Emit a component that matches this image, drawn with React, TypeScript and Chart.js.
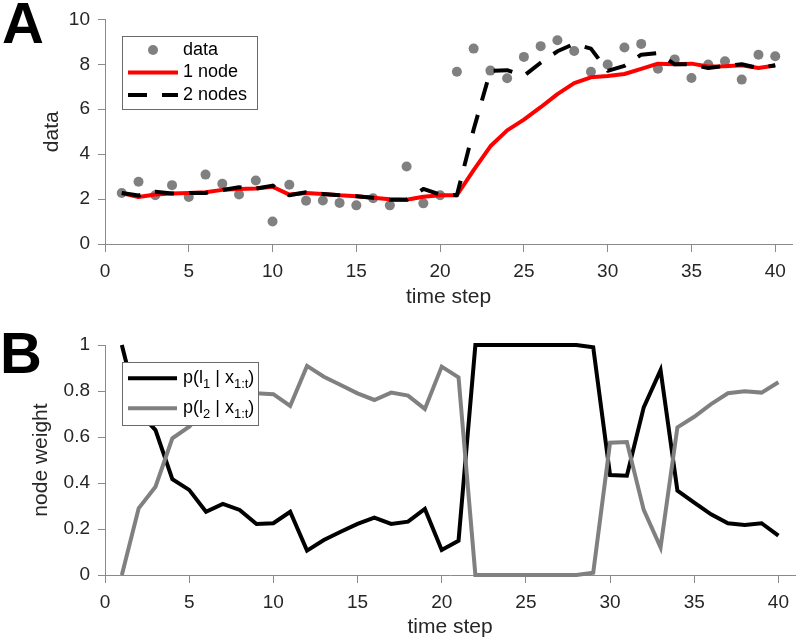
import React, { useEffect, useRef } from 'react';
import { Chart, registerables } from 'chart.js';

Chart.register(...registerables);

// ---------- data ----------
const timeSteps = [1, 2, 3, 4, 5, 6, 7, 8, 9, 10, 11, 12, 13, 14, 15, 16, 17, 18, 19, 20,
  21, 22, 23, 24, 25, 26, 27, 28, 29, 30, 31, 32, 33, 34, 35, 36, 37, 38, 39, 40];

const observed = [2.27, 2.77, 2.17, 2.62, 2.09, 3.09, 2.68, 2.2, 2.83, 1.0,
  2.64, 1.93, 1.94, 1.83, 1.72, 2.04, 1.72, 3.45, 1.81, 2.17,
  7.67, 8.7, 7.72, 7.38, 8.33, 8.81, 9.07, 8.59, 7.67, 7.99,
  8.75, 8.91, 7.8, 8.22, 7.39, 7.99, 8.14, 7.32, 8.43, 8.36];

const oneNode = [2.27, 2.09, 2.2, 2.25, 2.27, 2.3, 2.41, 2.45, 2.47, 2.55,
  2.2, 2.27, 2.23, 2.17, 2.13, 2.06, 1.99, 1.97, 2.1, 2.17,
  2.17, 3.29, 4.35, 5.06, 5.54, 6.09, 6.67, 7.16, 7.42, 7.48,
  7.57, 7.8, 8.03, 8.0, 8.03, 7.9, 7.91, 7.96, 7.84, 7.95];

const twoNodes = [2.27, 2.16, 2.33, 2.25, 2.27, 2.27, 2.4, 2.53, 2.47, 2.6,
  2.17, 2.3, 2.23, 2.17, 2.13, 2.06, 1.97, 1.97, 2.45, 2.2,
  2.17, 5.1, 7.71, 7.74, 7.49, 8.07, 8.58, 8.91, 8.7, 7.71,
  7.93, 8.43, 8.5, 8.0, 8.0, 7.83, 7.93, 8.0, 7.83, 7.96];

const pL1 = [1.0, 0.71, 0.63, 0.417, 0.37, 0.275, 0.309, 0.283, 0.222, 0.225,
  0.275, 0.106, 0.152, 0.188, 0.222, 0.249, 0.222, 0.232, 0.287, 0.109,
  0.149, 1.0, 1.0, 1.0, 1.0, 1.0, 1.0, 1.0, 0.99, 0.435,
  0.432, 0.729, 0.891, 0.367, 0.315, 0.264, 0.225, 0.217, 0.225, 0.171];

const pL2 = [0, 0.29, 0.384, 0.594, 0.645, 0.725, 0.69, 0.717, 0.79, 0.786,
  0.735, 0.909, 0.862, 0.826, 0.79, 0.761, 0.793, 0.78, 0.722, 0.906,
  0.859, 0, 0, 0, 0, 0, 0, 0, 0.01, 0.575,
  0.578, 0.283, 0.12, 0.642, 0.688, 0.743, 0.79, 0.799, 0.793, 0.838];

const xTickValues = [0, 5, 10, 15, 20, 25, 30, 35, 40];
const yTickValuesA = [0, 2, 4, 6, 8, 10];
const yTickValuesB = [0, 0.2, 0.4, 0.6, 0.8, 1];
const yTickLabelsB = ['0', '0.2', '0.4', '0.6', '0.8', '1'];

const legendLabelsA = ['data', '1 node', '2 nodes'];
const legendPartsB = [
  [{ t: 'p(l' }, { t: '1', sub: true }, { t: ' | x' }, { t: '1:t', sub: true }, { t: ')' }],
  [{ t: 'p(l' }, { t: '2', sub: true }, { t: ' | x' }, { t: '1:t', sub: true }, { t: ')' }],
];

// ---------- styling ----------
const FONT = "'Liberation Sans', Arial, Helvetica, sans-serif";
const AXIS_COLOR = '#8a8a8a';
const TEXT_COLOR = '#262626';

const toPts = (ys: number[]) => ys.map((y, i) => ({ x: timeSteps[i], y }));

const boxLegend = {
  id: 'boxLegend',
  afterDatasetsDraw(chart: any, _args: any, opts: any) {
    if (!opts || !opts.items) return;
    const { ctx, chartArea } = chart;
    const x0 = Math.round(chartArea.left + opts.offsetX);
    const y0 = Math.round(chartArea.top + opts.offsetY);
    ctx.save();
    ctx.fillStyle = '#ffffff';
    ctx.fillRect(x0, y0, opts.width, opts.height);
    ctx.strokeStyle = opts.borderColor;
    ctx.lineWidth = 1;
    ctx.strokeRect(x0 + 0.5, y0 + 0.5, opts.width, opts.height);
    opts.items.forEach((item: any, i: number) => {
      const ds = chart.data.datasets[item.datasetIndex];
      const cy = y0 + opts.rowTop + i * opts.rowGap;
      const sx0 = x0 + opts.sampleStart;
      const sx1 = x0 + opts.sampleEnd;
      if (ds.showLine === false) {
        ctx.fillStyle = ds.pointBackgroundColor;
        ctx.beginPath();
        ctx.arc((sx0 + sx1) / 2, cy, ds.pointRadius, 0, Math.PI * 2);
        ctx.fill();
      } else {
        ctx.setLineDash(ds.borderDash || []);
        ctx.strokeStyle = ds.borderColor;
        ctx.lineWidth = ds.borderWidth;
        ctx.lineCap = 'butt';
        ctx.beginPath();
        ctx.moveTo(sx0, cy);
        ctx.lineTo(sx1, cy);
        ctx.stroke();
        ctx.setLineDash([]);
      }
      let tx = x0 + opts.textStart;
      ctx.fillStyle = '#000000';
      ctx.textAlign = 'left';
      ctx.textBaseline = 'middle';
      for (const part of item.parts) {
        const size = part.sub ? opts.subSize : opts.fontSize;
        ctx.font = `${size}px ${FONT}`;
        ctx.fillText(part.t, tx, part.sub ? cy + opts.subShift : cy);
        tx += ctx.measureText(part.t).width;
      }
    });
    ctx.restore();
  },
};

const panelLetter = {
  id: 'panelLetter',
  afterDraw(chart: any, _args: any, opts: any) {
    if (!opts || !opts.text) return;
    const { ctx } = chart;
    ctx.save();
    ctx.fillStyle = '#000000';
    ctx.font = `bold ${opts.size}px ${FONT}`;
    ctx.textAlign = 'left';
    ctx.textBaseline = 'alphabetic';
    ctx.fillText(opts.text, opts.x, opts.y);
    ctx.restore();
  },
};

function xScale(axisHeight: number, titlePad: number) {
  return {
    type: 'linear',
    min: 0,
    max: 41,
    afterBuildTicks: (s: any) => { s.ticks = xTickValues.map((v) => ({ value: v })); },
    afterFit: (s: any) => { s.height = axisHeight; },
    ticks: {
      font: { family: FONT, size: 19 },
      color: TEXT_COLOR,
      padding: 8,
      maxRotation: 0,
      autoSkip: false,
      callback: (v: any) => String(v),
    },
    grid: { drawOnChartArea: false, drawTicks: true, tickLength: 8, color: AXIS_COLOR, lineWidth: 1 },
    border: { display: true, color: AXIS_COLOR, width: 1 },
    title: {
      display: true,
      text: 'time step',
      font: { family: FONT, size: 21 },
      color: TEXT_COLOR,
      padding: { top: 0, bottom: titlePad },
    },
  };
}

function yScale(min: number, max: number, values: number[], labels: string[] | null, title: string, titlePad: number) {
  return {
    type: 'linear',
    min,
    max,
    afterBuildTicks: (s: any) => { s.ticks = values.map((v) => ({ value: v })); },
    afterFit: (s: any) => { s.width = 105; },
    ticks: {
      font: { family: FONT, size: 19 },
      color: TEXT_COLOR,
      padding: 8,
      autoSkip: false,
      callback: (v: any, i: number) => (labels ? labels[i] : String(v)),
    },
    grid: { drawOnChartArea: false, drawTicks: true, tickLength: 7, color: AXIS_COLOR, lineWidth: 1 },
    border: { display: true, color: AXIS_COLOR, width: 1 },
    title: {
      display: true,
      text: title,
      font: { family: FONT, size: 21 },
      color: TEXT_COLOR,
      padding: { top: titlePad, bottom: 0 },
    },
  };
}

export default function App() {
  const refA = useRef<HTMLCanvasElement>(null);
  const refB = useRef<HTMLCanvasElement>(null);

  useEffect(() => {
    const chartA = new Chart(refA.current as HTMLCanvasElement, {
      type: 'line',
      plugins: [boxLegend, panelLetter],
      data: {
        datasets: [
          {
            label: legendLabelsA[0],
            data: toPts(observed),
            showLine: false,
            pointRadius: 5,
            pointBackgroundColor: '#808080',
            pointBorderWidth: 0,
            order: 3,
          },
          {
            label: legendLabelsA[1],
            data: toPts(oneNode),
            borderColor: '#ff0000',
            borderWidth: 4,
            pointRadius: 0,
            tension: 0,
            borderJoinStyle: 'round',
            order: 2,
          },
          {
            label: legendLabelsA[2],
            data: toPts(twoNodes),
            borderColor: '#000000',
            borderWidth: 4,
            borderDash: [19, 15],
            pointRadius: 0,
            tension: 0,
            borderJoinStyle: 'round',
            order: 1,
          },
        ] as any,
      },
      options: {
        animation: false,
        responsive: false,
        clip: false as any,
        layout: { padding: { top: 14, right: 1, bottom: 0, left: 0 } },
        scales: {
          x: xScale(76, 10) as any,
          y: yScale(0, 10, yTickValuesA, null, 'data', 40) as any,
        },
        plugins: {
          legend: { display: false },
          tooltip: { enabled: false },
          boxLegend: {
            offsetX: 17, offsetY: 17, width: 135, height: 73,
            borderColor: '#6a6a6a',
            rowTop: 14, rowGap: 22.5,
            sampleStart: 6, sampleEnd: 56, textStart: 61,
            fontSize: 18, subSize: 13, subShift: 6,
            items: legendLabelsA.map((l, i) => ({ datasetIndex: i, parts: [{ t: l }] })),
          },
          panelLetter: { text: 'A', x: 2, y: 43, size: 58 },
        } as any,
      },
    });

    const chartB = new Chart(refB.current as HTMLCanvasElement, {
      type: 'line',
      plugins: [boxLegend, panelLetter],
      data: {
        datasets: [
          {
            label: 'p(l1 | x1:t)',
            data: toPts(pL1),
            borderColor: '#000000',
            borderWidth: 4,
            pointRadius: 0,
            tension: 0,
            order: 2,
          },
          {
            label: 'p(l2 | x1:t)',
            data: toPts(pL2),
            borderColor: '#808080',
            borderWidth: 4,
            pointRadius: 0,
            tension: 0,
            order: 1,
          },
        ] as any,
      },
      options: {
        animation: false,
        responsive: false,
        clip: false as any,
        layout: { padding: { top: 25, right: 1, bottom: 0, left: 0 } },
        scales: {
          x: xScale(65, 0) as any,
          y: yScale(0, 1, yTickValuesB, yTickLabelsB, 'node weight', 29) as any,
        },
        plugins: {
          legend: { display: false },
          tooltip: { enabled: false },
          boxLegend: {
            offsetX: 17, offsetY: 17, width: 136, height: 63,
            borderColor: '#6a6a6a',
            rowTop: 16.3, rowGap: 30,
            sampleStart: 6, sampleEnd: 55, textStart: 61,
            fontSize: 18, subSize: 13, subShift: 6,
            items: legendPartsB.map((parts, i) => ({ datasetIndex: i, parts })),
          },
          panelLetter: { text: 'B', x: 0, y: 53, size: 58 },
        } as any,
      },
    });

    return () => {
      chartA.destroy();
      chartB.destroy();
    };
  }, []);

  return (
    <div style={{ position: 'absolute', left: 0, top: 0, width: 797, height: 640, background: '#ffffff', overflow: 'hidden' }}>
      <canvas ref={refA} width={797} height={320} style={{ position: 'absolute', left: 0, top: 0, width: 797, height: 320 }} />
      <canvas ref={refB} width={797} height={320} style={{ position: 'absolute', left: 0, top: 320, width: 797, height: 320 }} />
    </div>
  );
}
